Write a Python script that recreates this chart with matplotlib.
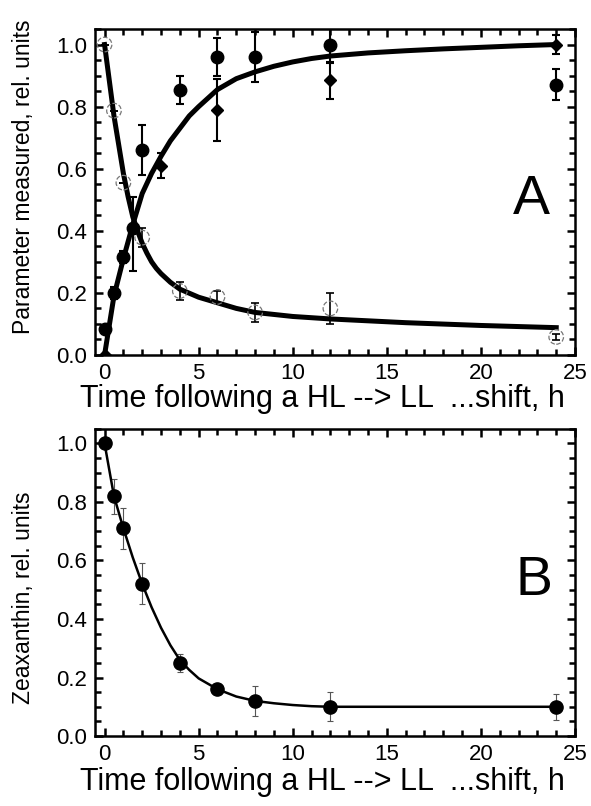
import numpy as np
import matplotlib
matplotlib.use('Agg')
import matplotlib.pyplot as plt
from matplotlib.ticker import MultipleLocator

plt.rcParams['font.family'] = ['Liberation Sans', 'DejaVu Sans']

# panel A - filled circles
a_circ_t = [0, 0.5, 1, 1.5, 2, 4, 6, 8, 12, 24]
a_circ_y = [0.084, 0.20, 0.315, 0.41, 0.66, 0.855, 0.96, 0.96, 1.0, 0.87]
a_circ_lo = [0.0, 0.02, 0.02, 0.14, 0.08, 0.045, 0.06, 0.08, 0.06, 0.05]
a_circ_hi = [0.0, 0.02, 0.02, 0.10, 0.08, 0.045, 0.06, 0.08, 0.06, 0.05]

# panel A - diamonds
a_dia_t = [0, 3, 6, 12, 24]
a_dia_y = [0.0, 0.61, 0.79, 0.885, 1.0]
a_dia_err = [0.0, 0.04, 0.10, 0.06, 0.03]

# panel A - open circles
a_open_t = [0, 0.5, 1, 2, 4, 6, 8, 12, 24]
a_open_y = [1.0, 0.787, 0.555, 0.378, 0.206, 0.187, 0.137, 0.15, 0.058]
a_open_err = [0.0, 0.0, 0.0, 0.03, 0.03, 0.02, 0.03, 0.05, 0.01]

# fitted curves
rise_t = [0, 0.5, 1, 1.5, 2, 2.5, 3, 3.5, 4, 4.5, 5, 6, 7, 8, 9, 10, 11,
          12, 14, 16, 18, 20, 22, 24]
rise_y = [0.0, 0.19, 0.31, 0.42, 0.52, 0.585, 0.64, 0.69, 0.73, 0.77, 0.80,
          0.855, 0.89, 0.912, 0.93, 0.944, 0.955, 0.963, 0.973, 0.98, 0.986,
          0.991, 0.996, 1.0]
fall_t = [0, 0.5, 1, 1.25, 1.5, 1.75, 2, 2.25, 2.5, 2.75, 3, 3.5, 4, 5, 6,
          7, 8, 10, 12, 16, 20, 24]
fall_y = [1.0, 0.77, 0.585, 0.51, 0.445, 0.40, 0.36, 0.328, 0.30, 0.279,
          0.262, 0.234, 0.212, 0.186, 0.168, 0.150, 0.137, 0.124, 0.116,
          0.104, 0.095, 0.088]

# panel B - zeaxanthin
b_t = [0, 0.5, 1, 2, 4, 6, 8, 12, 24]
b_y = [1.0, 0.82, 0.71, 0.52, 0.25, 0.16, 0.12, 0.10, 0.10]
b_err = [0.0, 0.06, 0.07, 0.07, 0.03, 0.01, 0.05, 0.05, 0.045]
b_fit_t = [0, 0.5, 1, 1.5, 2, 2.5, 3, 3.5, 4, 4.5, 5, 6, 7, 8, 9, 10, 11,
           12, 24]
b_fit_y = [1.0, 0.82, 0.71, 0.61, 0.52, 0.44, 0.37, 0.31, 0.26, 0.226,
           0.197, 0.16, 0.135, 0.12, 0.112, 0.106, 0.102, 0.10, 0.10]

xlabel = 'Time following a HL --> LL  ...shift, h'

fig = plt.figure(figsize=(5.91, 8.06), dpi=100)
ax1 = fig.add_axes([0.161, 0.5596, 0.812, 0.4044])
ax2 = fig.add_axes([0.161, 0.0868, 0.812, 0.3812])


def style_axes(ax):
  ax.set_xlim(-0.5, 25)
  ax.set_ylim(0, 1.05)
  ax.xaxis.set_major_locator(MultipleLocator(5))
  ax.xaxis.set_minor_locator(MultipleLocator(1))
  ax.yaxis.set_major_locator(MultipleLocator(0.2))
  ax.yaxis.set_minor_locator(MultipleLocator(0.05))
  ax.yaxis.set_major_formatter(lambda v, p: '{:.1f}'.format(v))
  ax.tick_params(which='both', direction='in', top=True, right=True,
                 labelsize=16, width=1.8, pad=6)
  ax.tick_params(which='major', length=6)
  ax.tick_params(which='minor', length=4)
  for s in ax.spines.values():
    s.set_linewidth(1.8)
  ax.set_xlabel(xlabel, fontsize=22)


style_axes(ax1)
ax1.xaxis.set_label_coords(0.473, -0.088)
ax1.plot(rise_t, rise_y, color='black', lw=3.6, zorder=3)
ax1.plot(fall_t, fall_y, color='black', lw=3.6, zorder=3)
ax1.errorbar(a_open_t, a_open_y, yerr=a_open_err, fmt='none', ecolor='black',
             elinewidth=1.2, capsize=3, capthick=1.2, zorder=4)
ax1.scatter(a_open_t, a_open_y, s=110, facecolors='none', edgecolors='#777777',
            linewidths=0.9, linestyles='dashed', zorder=5)
ax1.errorbar(a_circ_t, a_circ_y, yerr=[a_circ_lo, a_circ_hi], fmt='o',
             color='black', ms=9, elinewidth=1.5, capsize=3, capthick=1.5,
             zorder=6)
ax1.errorbar(a_dia_t, a_dia_y, yerr=a_dia_err, fmt='D', color='black', ms=6.5,
             elinewidth=1.5, capsize=3, capthick=1.5, zorder=6)
ax1.set_ylabel('Parameter measured, rel. units', fontsize=16.5)
ax1.yaxis.set_label_coords(-0.125, 0.546)
ax1.text(22.7, 0.50, 'A', fontsize=40, ha='center', va='center')

style_axes(ax2)
ax2.xaxis.set_label_coords(0.473, -0.1)
ax2.errorbar(b_t, b_y, yerr=b_err, fmt='none', ecolor='#555555',
             elinewidth=0.8, capsize=2, capthick=0.8, zorder=2)
ax2.plot(b_fit_t, b_fit_y, color='black', lw=1.8, zorder=3)
ax2.plot(b_t, b_y, 'o', color='black', ms=9.5, zorder=4)
ax2.set_ylabel('Zeaxanthin, rel. units', fontsize=16.5)
ax2.yaxis.set_label_coords(-0.125, 0.45)
ax2.text(22.8, 0.53, 'B', fontsize=40, ha='center', va='center')

fig.savefig('out.png', dpi=100)
